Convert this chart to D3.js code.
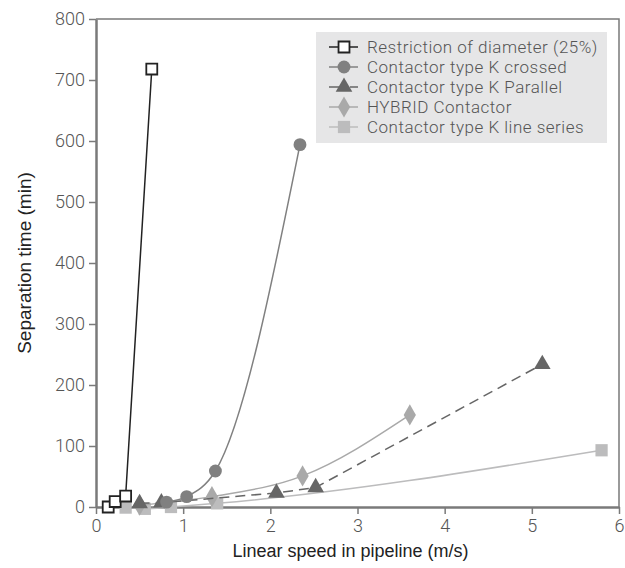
<!DOCTYPE html>
<html lang="en">
<head>
    <meta charset="UTF-8">
    <title>Separation time vs linear speed</title>
    <script src="https://d3js.org/d3.v7.min.js"></script>
    <style>
        body { margin: 0; background: #fff; }
    </style>
</head>
<body>

<div id="my_dataviz"></div>

<script>
    // series data
    var restriction = [{x: 0.14, y: 0}, {x: 0.22, y: 9}, {x: 0.34, y: 18}, {x: 0.64, y: 718}]
    var kCrossed = [{x: 0.81, y: 8}, {x: 1.04, y: 17}, {x: 1.37, y: 59}, {x: 2.34, y: 594}]
    var kParallel = [{x: 0.5, y: 6}, {x: 0.75, y: 7}, {x: 2.07, y: 23}, {x: 2.52, y: 32}, {x: 5.12, y: 234}]
    var hybrid = [{x: 0.5, y: 3}, {x: 1.33, y: 17}, {x: 2.37, y: 51}, {x: 3.6, y: 151}]
    var kLineSeries = [{x: 0.34, y: -1}, {x: 0.56, y: -3}, {x: 0.86, y: 0}, {x: 1.39, y: 6}, {x: 5.8, y: 93}]

    var xTicks = [0, 1, 2, 3, 4, 5, 6]
    var yTicks = [0, 100, 200, 300, 400, 500, 600, 700, 800]
    var seriesNames = ["Restriction of diameter (25%)", "Contactor type K crossed", "Contactor type K Parallel",
        "HYBRID Contactor", "Contactor type K line series"]

    var margin = {top: 19, right: 6, bottom: 61, left: 96},
        width = 625 - margin.left - margin.right,
        height = 568 - margin.top - margin.bottom;

    var svg = d3.select("#my_dataviz").append("svg")
        .attr("width", width + margin.left + margin.right)
        .attr("height", height + margin.top + margin.bottom)
        .append("g")
        .attr("transform", "translate(" + margin.left + "," + margin.top + ")");

    var x = d3.scaleLinear().domain([0, 6]).range([0, width]);
    var y = d3.scaleLinear().domain([0, 800]).range([height, 0]);

    var axisColor = "#7a7a7a"
    var tickFont = "Roboto, 'Liberation Sans', sans-serif"

    // frame (top and right)
    svg.append("path")
        .attr("d", "M0,0H" + width + "V" + height)
        .attr("fill", "none")
        .attr("stroke", axisColor)
        .attr("stroke-width", 1.5);

    // x axis
    var xAxis = svg.append("g")
        .attr("transform", "translate(0," + height + ")")
        .call(d3.axisBottom(x).tickValues(xTicks).tickFormat(d3.format("d"))
            .tickSize(7).tickPadding(5).tickSizeOuter(0));
    // y axis
    var yAxis = svg.append("g")
        .call(d3.axisLeft(y).tickValues(yTicks).tickSize(7).tickPadding(4).tickSizeOuter(0));

    [xAxis, yAxis].forEach(function(a) {
        a.select(".domain").attr("stroke", axisColor).attr("stroke-width", 2.5);
        a.selectAll(".tick line").attr("stroke", axisColor).attr("stroke-width", 1.5);
        a.selectAll(".tick text")
            .attr("fill", "#555")
            .style("font-family", tickFont)
            .style("font-weight", 300)
            .style("font-size", "18px");
    });

    // axis titles
    svg.append("text")
        .attr("x", width / 2 - 7)
        .attr("y", height + 50)
        .attr("text-anchor", "middle")
        .style("font-family", "'Liberation Sans', Arial, sans-serif")
        .style("font-size", "18px")
        .attr("fill", "#222")
        .text("Linear speed in pipeline (m/s)");

    svg.append("text")
        .attr("transform", "translate(-65," + (height / 2) + ") rotate(-90)")
        .attr("text-anchor", "middle")
        .style("font-family", "'Liberation Sans', Arial, sans-serif")
        .style("font-size", "19px")
        .attr("fill", "#222")
        .text("Separation time (min)");

    // legend box
    var legend = svg.append("g").attr("transform", "translate(220,13)");
    legend.append("rect")
        .attr("width", 291)
        .attr("height", 111)
        .attr("fill", "#e6e6e7");

    var styles = [
        {line: "#222", fill: "#fff", stroke: "#222", sym: d3.symbolSquare, size: 120, dash: null, curve: d3.curveLinear, data: restriction},
        {line: "#808080", fill: "#808080", stroke: "none", sym: d3.symbolCircle, size: 130, dash: null, curve: d3.curveMonotoneX, data: kCrossed},
        {line: "#666", fill: "#666", stroke: "none", sym: d3.symbolTriangle, size: 120, dash: "10,6", curve: d3.curveLinear, data: kParallel},
        {line: "#a9a9a9", fill: "#a9a9a9", stroke: "none", sym: d3.symbolDiamond, size: 130, dash: null, curve: d3.curveMonotoneX, data: hybrid},
        {line: "#bcbcbd", fill: "#bcbcbd", stroke: "none", sym: d3.symbolSquare, size: 150, dash: null, curve: d3.curveMonotoneX, data: kLineSeries}
    ]

    // draw series, lightest first so darker ones sit on top
    for (var i = styles.length - 1; i >= 0; i--) {
        var s = styles[i];
        svg.append("path")
            .datum(s.data)
            .attr("fill", "none")
            .attr("stroke", s.line)
            .attr("stroke-width", 1.5)
            .attr("stroke-dasharray", s.dash)
            .attr("d", d3.line().curve(s.curve)
                .x(function(d) { return x(d.x) })
                .y(function(d) { return y(d.y) })
            );
        svg.append("g").selectAll("path")
            .data(s.data)
            .join("path")
            .attr("transform", function(d) { return "translate(" + x(d.x) + "," + y(d.y) + ")" })
            .attr("d", d3.symbol().type(s.sym).size(s.size))
            .attr("fill", s.fill)
            .attr("stroke", s.stroke)
            .attr("stroke-width", 1.8);
    }

    // legend entries
    styles.forEach(function(s, i) {
        var row = legend.append("g").attr("transform", "translate(0," + (15 + i * 20) + ")");
        row.append("line")
            .attr("x1", 13).attr("x2", 42)
            .attr("stroke", s.line)
            .attr("stroke-width", 1.5)
            .attr("stroke-dasharray", s.dash ? "17,4,8" : null);
        row.append("path")
            .attr("transform", "translate(28,0)")
            .attr("d", d3.symbol().type(s.sym).size(s.size))
            .attr("fill", s.fill)
            .attr("stroke", s.stroke)
            .attr("stroke-width", 1.8);
        row.append("text")
            .attr("x", 51)
            .attr("dy", "0.35em")
            .attr("fill", "#555")
            .style("font-family", tickFont)
            .style("font-weight", 300)
            .style("font-size", "17px")
            .style("letter-spacing", "0.5px")
            .text(seriesNames[i]);
    });
</script>

</body>
</html>
